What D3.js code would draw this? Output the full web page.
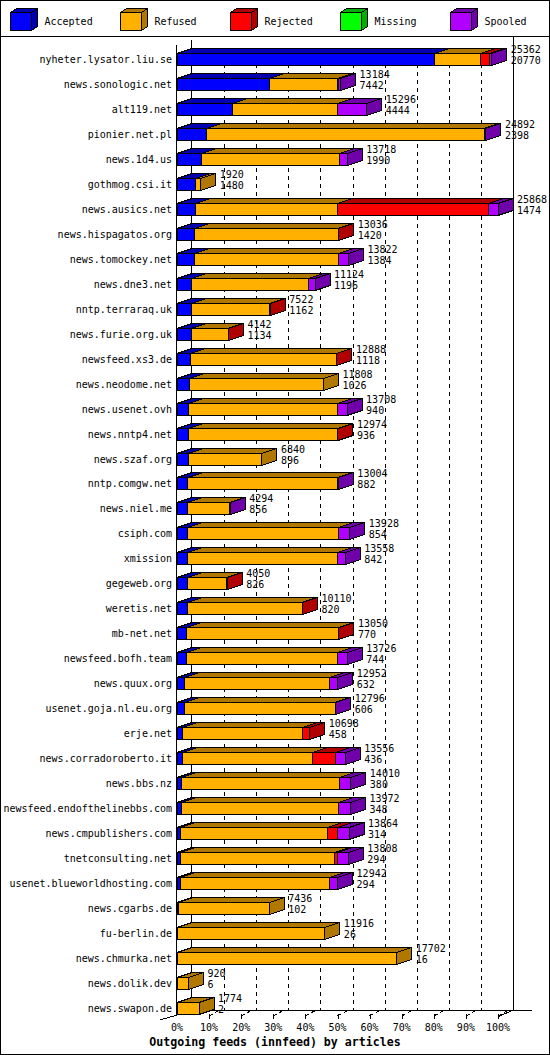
<!DOCTYPE html>
<html>
<head>
<meta charset="utf-8">
<script src="https://cdn.jsdelivr.net/npm/d3@7/dist/d3.min.js"></script>
<style>
  body { margin: 0; background: #fff; }
  svg { display: block; }
  text { font-family: "DejaVu Sans Mono", monospace; font-size: 10px; fill: #000; }
</style>
</head>
<body>
<svg id="chart" width="550" height="1055"></svg>
<script>
// feeds, in the order of the report
const hosts = [
  "nyheter.lysator.liu.se", "news.sonologic.net", "alt119.net", "pionier.net.pl",
  "news.1d4.us", "gothmog.csi.it", "news.ausics.net", "news.hispagatos.org",
  "news.tomockey.net", "news.dne3.net", "nntp.terraraq.uk", "news.furie.org.uk",
  "newsfeed.xs3.de", "news.neodome.net", "news.usenet.ovh", "news.nntp4.net",
  "news.szaf.org", "nntp.comgw.net", "news.niel.me", "csiph.com", "xmission",
  "gegeweb.org", "weretis.net", "mb-net.net", "newsfeed.bofh.team", "news.quux.org",
  "usenet.goja.nl.eu.org", "erje.net", "news.corradoroberto.it", "news.bbs.nz",
  "newsfeed.endofthelinebbs.com", "news.cmpublishers.com", "tnetconsulting.net",
  "usenet.blueworldhosting.com", "news.cgarbs.de", "fu-berlin.de", "news.chmurka.net",
  "news.dolik.dev", "news.swapon.de"
];
const accepted = [20770, 7442, 4444, 2398, 1990, 1480, 1474, 1420, 1384, 1196, 1162, 1134,
  1118, 1026, 940, 936, 896, 882, 856, 854, 842, 826, 820, 770, 744, 632, 606, 458, 436,
  380, 348, 314, 294, 294, 102, 26, 16, 6, 2];
const refused = [3700, 5480, 8480, 22350, 11090, 440, 11444, 11560, 11636, 9395, 6318, 2978,
  11720, 10782, 11997, 12000, 5944, 12060, 3380, 12166, 12095, 3177, 9262, 12250, 12193,
  11684, 12134, 9654, 10466, 12699, 12672, 11804, 12389, 12022, 7334, 11890, 17686, 914, 1772];
const rejected = [750, 100, 0, 0, 0, 0, 12199, 56, 0, 0, 42, 30, 50, 0, 0, 38, 0, 0, 0, 0,
  0, 47, 28, 30, 0, 0, 0, 586, 1894, 0, 0, 847, 282, 0, 0, 0, 0, 0, 0];
const missing = hosts.map(() => 0);
const spooled = [142, 162, 2372, 144, 638, 0, 751, 0, 802, 533, 0, 0, 0, 0, 771, 0, 0, 62,
  58, 908, 621, 0, 0, 0, 789, 636, 56, 0, 760, 931, 952, 899, 843, 626, 0, 0, 0, 0, 0];

const seriesNames = ["Accepted", "Refused", "Rejected", "Missing", "Spooled"];
const frontColors = ["#0000ff", "#ffb000", "#ff0000", "#00ff00", "#b000ff"];
const darkColors = ["#0000b0", "#b07800", "#b00000", "#00b000", "#7000aa"];
const pctTicks = [0, 10, 20, 30, 40, 50, 60, 70, 80, 90, 100];
const title = "Outgoing feeds (innfeed) by articles";

const svg = d3.select("#chart").attr("shape-rendering", "crispEdges");
const values = [accepted, refused, rejected, missing, spooled];

const rows = hosts.map((h, i) => {
  let acc = 0;
  const segs = values.map((v, j) => {
    const s = { j, v0: acc, v1: acc + v[i] };
    acc += v[i];
    return s;
  }).filter(s => s.v1 > s.v0);
  return { host: h, total: acc, accepted: accepted[i], segs };
});

const dx = 15, dy = 5, barH = 12;
const x = d3.scaleLinear().domain([0, d3.max(rows, d => d.total)]).range([177, 498]);
const pct = d3.scaleLinear().domain([0, 100]).range([177, 498]);
const y = d3.scaleBand().domain(hosts).range([53, 53 + 24.97 * hosts.length]);

// frame + legend separator
svg.append("rect").attr("x", 0.5).attr("y", 0.5).attr("width", 549).attr("height", 1054)
  .attr("fill", "#fff").attr("stroke", "#000");
svg.append("line").attr("x1", 0).attr("x2", 550).attr("y1", 36.5).attr("y2", 36.5).attr("stroke", "#000");

// legend cubes
const leg = svg.append("g").selectAll("g").data(seriesNames).join("g")
  .attr("transform", (d, j) => `translate(${10.5 + 110 * j},12.5)`);
leg.append("polygon").attr("points", "0,0 6,-4 27,-4 21,0")
  .attr("fill", (d, j) => darkColors[j]).attr("stroke", "#000");
leg.append("polygon").attr("points", "21,0 27,-4 27,14 21,18")
  .attr("fill", (d, j) => darkColors[j]).attr("stroke", "#000");
leg.append("rect").attr("width", 21).attr("height", 18)
  .attr("fill", (d, j) => frontColors[j]).attr("stroke", "#000");
leg.append("text").attr("x", 34).attr("y", 9).attr("dominant-baseline", "middle").text(d => d);

// walls and grid (back plane is shifted by dx, dy)
const floorY = 1010.5;
const grid = svg.append("g");
grid.selectAll("line.grid").data(pctTicks.slice(1, -1)).join("line")
  .attr("x1", d => Math.round(pct(d) + dx) + 0.5).attr("x2", d => Math.round(pct(d) + dx) + 0.5)
  .attr("y1", 48).attr("y2", floorY)
  .attr("stroke", "#000").attr("stroke-dasharray", "4,4");
grid.append("line").attr("x1", pct(0) + dx - 0.5).attr("x2", pct(0) + dx - 0.5)
  .attr("y1", 40).attr("y2", floorY).attr("stroke", "#000");
grid.append("line").attr("x1", pct(100) + dx + 0.5).attr("x2", pct(100) + dx + 0.5)
  .attr("y1", 37).attr("y2", floorY).attr("stroke", "#000");
grid.append("line").attr("x1", pct(0) - 0.5).attr("x2", pct(0) - 0.5)
  .attr("y1", 45).attr("y2", 1015).attr("stroke", "#000");
grid.append("line").attr("x1", pct(0) + dx).attr("x2", 532).attr("y1", floorY).attr("y2", floorY).attr("stroke", "#000");
grid.append("line").attr("x1", 160).attr("y1", 1020).attr("x2", pct(0)).attr("y2", 1015).attr("stroke", "#000");
grid.append("line").attr("x1", pct(100)).attr("y1", 1017).attr("x2", pct(100) + dx).attr("y2", 1010).attr("stroke", "#000");

// floor ticks
const ticks = grid.selectAll("g.tick").data(pctTicks.slice(1)).join("g");
ticks.append("line").attr("x1", d => Math.round(pct(d)) + 0.5).attr("x2", d => Math.round(pct(d)) + 0.5)
  .attr("y1", 1014).attr("y2", 1019).attr("stroke", "#000");
ticks.append("line").attr("x1", d => pct(d)).attr("y1", 1016)
  .attr("x2", d => pct(d) + 9).attr("y2", 1011)
  .attr("stroke", "#000").attr("stroke-dasharray", "4,3");

svg.append("g").selectAll("text").data(pctTicks).join("text")
  .attr("x", d => pct(d)).attr("y", 1028).attr("text-anchor", "middle")
  .attr("dominant-baseline", "middle").text(d => d + "%");

// bars
const bar = svg.append("g").selectAll("g").data(rows).join("g")
  .attr("transform", d => `translate(0,${Math.round(y(d.host)) + 0.5})`);

bar.each(function (d) {
  const g = d3.select(this);
  g.selectAll("polygon.top").data(d.segs).join("polygon")
    .attr("points", s => [[x(s.v0), 0], [x(s.v1), 0], [x(s.v1) + dx, -dy], [x(s.v0) + dx, -dy]].join(" "))
    .attr("fill", s => darkColors[s.j]).attr("stroke", "#000");
  const last = d.segs[d.segs.length - 1];
  g.append("polygon")
    .attr("points", [[x(last.v1), 0], [x(last.v1) + dx, -dy], [x(last.v1) + dx, barH - dy], [x(last.v1), barH]].join(" "))
    .attr("fill", darkColors[last.j]).attr("stroke", "#000");
  g.selectAll("rect").data(d.segs).join("rect")
    .attr("x", s => x(s.v0)).attr("width", s => x(s.v1) - x(s.v0))
    .attr("y", 0).attr("height", barH)
    .attr("fill", s => frontColors[s.j]).attr("stroke", "#000");
});

bar.append("text").attr("x", 172).attr("y", barH / 2 + 0.5)
  .attr("text-anchor", "end").attr("dominant-baseline", "middle").text(d => d.host);
bar.append("text").attr("x", d => x(d.total) + dx + 4).attr("y", -3.5)
  .attr("dominant-baseline", "middle").text(d => d.total);
bar.append("text").attr("x", d => x(d.total) + dx + 4).attr("y", 7)
  .attr("dominant-baseline", "middle").text(d => d.accepted);

svg.append("text").attr("x", 275).attr("y", 1042).attr("text-anchor", "middle")
  .attr("dominant-baseline", "middle").style("font-size", "11.6px").style("font-weight", "bold")
  .text(title);
</script>
</body>
</html>
